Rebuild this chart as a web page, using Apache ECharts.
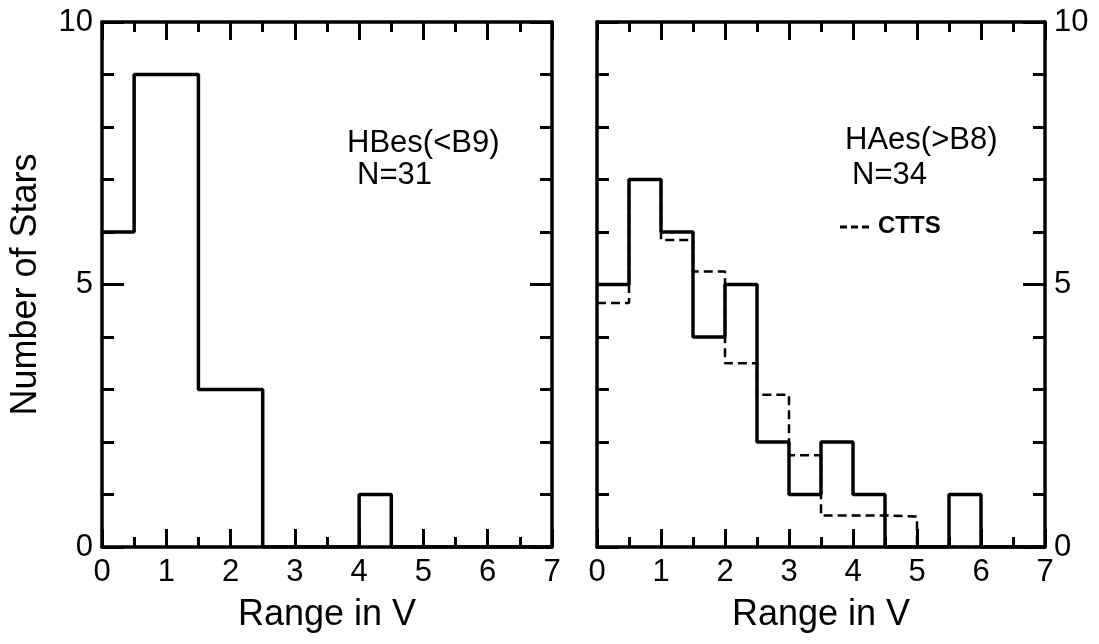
<!DOCTYPE html>
<html>
<head>
<meta charset="utf-8">
<script src="https://cdn.jsdelivr.net/npm/echarts@6/dist/echarts.min.js"></script>
<style>
html,body{margin:0;padding:0;background:#fff;}
#chart{width:1099px;height:644px;}
</style>
</head>
<body>
<div id="chart"></div>
<script>
// Bin edges (Range in V), width 0.5
const binEdges = [0,0.5,1,1.5,2,2.5,3,3.5,4,4.5,5,5.5,6,6.5,7];
// Counts per bin
const hbesCounts = [6,9,9,3,3,0,0,0,1,0,0,0,0,0];
const haesCounts = [5,7,6,4,5,2,1,2,1,0,0,1,0,0];
const cttsScaled = [4.65,7,5.85,5.25,3.5,2.9,1.75,0.6,0.6,0.58,0,0,0,0];
const xTicks = [0,1,2,3,4,5,6,7];
const yTicks = [0,5,10];
const leftLabel = 'HBes(<B9)';
const leftN = 'N=31';
const rightLabel = 'HAes(>B8)';
const rightN = 'N=34';
const cttsLabel = 'CTTS';

function steps(counts){
  const pts = counts.map((c,i)=>[binEdges[i], c]);
  pts.push([binEdges[binEdges.length-1], counts[counts.length-1]]);
  return pts;
}

const FONT = 'Liberation Sans, Arial, sans-serif';
const AX = {color:'#000', width:3.5};

function xAxisBottom(grid){
  return {
    type:'value', gridIndex:grid, position:'bottom', min:0, max:7, interval:1,
    axisLine:{onZero:false, lineStyle:AX},
    axisTick:{inside:true, length:18, lineStyle:{color:'#000', width:3}},
    minorTick:{show:true, splitNumber:2, length:10, lineStyle:{color:'#000', width:3}},
    splitLine:{show:false}, minorSplitLine:{show:false},
    axisLabel:{color:'#000', fontSize:31, fontFamily:FONT, margin:10,
      formatter:v=> xTicks.includes(v) ? String(v) : ''},
    name:'Range in V', nameLocation:'middle', nameGap:50,
    nameTextStyle:{color:'#000', fontSize:36, fontFamily:FONT}
  };
}
function xAxisTop(grid){
  return {
    type:'value', gridIndex:grid, position:'top', min:0, max:7, interval:1,
    axisLine:{onZero:false, lineStyle:AX},
    axisTick:{inside:true, length:18, lineStyle:{color:'#000', width:3}},
    minorTick:{show:true, splitNumber:2, length:10, lineStyle:{color:'#000', width:3}},
    splitLine:{show:false}, axisLabel:{show:false}
  };
}
function yAxis(grid, pos, labels, name){
  const a = {
    type:'value', gridIndex:grid, position:pos, min:0, max:10, interval:5,
    axisLine:{show:true, onZero:false, lineStyle:AX},
    axisTick:{show:true, inside:true, length:22, lineStyle:{color:'#000', width:3}},
    minorTick:{show:true, splitNumber:5, length:12, lineStyle:{color:'#000', width:3}},
    splitLine:{show:false},
    axisLabel:{show:labels, color:'#000', fontSize:31, fontFamily:FONT, margin:9,
      formatter:v=> yTicks.includes(v) ? String(v) : ''}
  };
  if(name){
    a.name = name; a.nameLocation='middle'; a.nameGap=58;
    a.nameTextStyle={color:'#000', fontSize:36, fontFamily:FONT};
  }
  return a;
}

const chart = echarts.init(document.getElementById('chart'));
chart.setOption({
  backgroundColor:'#fff',
  animation:false,
  grid:[
    {left:102, top:22, width:450, height:525},
    {left:597, top:22, width:448, height:525}
  ],
  xAxis:[xAxisBottom(0), xAxisTop(0), xAxisBottom(1), xAxisTop(1)],
  yAxis:[yAxis(0,'left',true,'Number of Stars'), yAxis(0,'right',false),
         yAxis(1,'left',false), yAxis(1,'right',true)],
  graphic:[
    {type:'text', left:347, top:128, style:{text:leftLabel, fill:'#000', font:'31px '+FONT}},
    {type:'text', left:357, top:160, style:{text:leftN, fill:'#000', font:'31px '+FONT}},
    {type:'text', left:845, top:125, style:{text:rightLabel, fill:'#000', font:'31px '+FONT}},
    {type:'text', left:852, top:160, style:{text:rightN, fill:'#000', font:'31px '+FONT}},
    {type:'line', shape:{x1:840, y1:227, x2:871, y2:227},
     style:{stroke:'#000', lineWidth:3, lineDash:[7,4]}},
    {type:'text', left:878, top:214, style:{text:cttsLabel, fill:'#000', font:'bold 24px '+FONT}}
  ],
  series:[
    {name:'HBes', type:'line', xAxisIndex:0, yAxisIndex:0, step:'end', symbol:'none',
     data:steps(hbesCounts), lineStyle:{color:'#000', width:3.5}, z:3},
    {name:'CTTS', type:'line', xAxisIndex:2, yAxisIndex:2, step:'end', symbol:'none',
     data:steps(cttsScaled), lineStyle:{color:'#000', width:2.5, type:[9,5]},
     itemStyle:{color:'#000'}, z:2},
    {name:'HAes', type:'line', xAxisIndex:2, yAxisIndex:2, step:'end', symbol:'none',
     data:steps(haesCounts), lineStyle:{color:'#000', width:3.5}, z:3}
  ]
});
</script>
</body>
</html>
